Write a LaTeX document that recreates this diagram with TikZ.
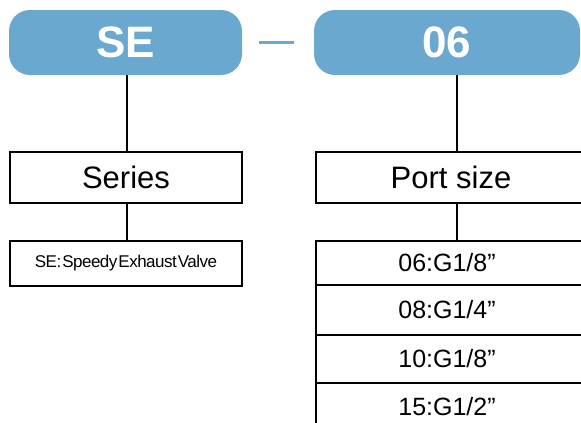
\documentclass[tikz,border=0pt]{standalone}
\usepackage{fontspec}
\setmainfont{Liberation Sans}
\newfontfamily\tightfont[WordSpace=0.25,LetterSpace=-3]{Liberation Sans}
\usetikzlibrary{positioning}
\definecolor{codeblue}{RGB}{106,168,207}

\begin{document}
\begin{tikzpicture}[x=1pt,y=-1pt]
	\tikzset{
		codebox/.style={fill=codeblue,rounded corners=21pt,minimum height=65pt,inner sep=0pt,text=white,font=\fontsize{44}{44}\selectfont\bfseries},
		namebox/.style={draw=black,line width=2pt,fill=white,minimum height=51pt,inner sep=0pt,font=\fontsize{31}{31}\selectfont},
		rowbox/.style={draw=black,line width=2pt,fill=white,minimum width=270pt,inner sep=0pt,font=\fontsize{25}{25}\selectfont},
		link/.style={line width=2pt,black}
	}
	\useasboundingbox (0,0) rectangle (581,423);
	\clip (0,0) rectangle (581,423);
	\node (se) at (125.5,42.5) [codebox,minimum width=233pt] {SE};
	\node (size) at (447,42.5) [codebox,minimum width=266pt] {06};
	\draw[codeblue,line width=2.5pt,shorten <=17pt,shorten >=20pt] (se) -- (size);

	\node (series) at (126,177.5) [namebox,minimum width=232pt] {Series};
	\node (seval) at (126,263.5) [namebox,minimum width=232pt,minimum height=45pt,font=\tightfont\fontsize{17}{17}\selectfont] {SE: Speedy Exhaust Valve};

	\node (port) at (451,177.5) [namebox,minimum width=270pt] {Port size};
	\node (r06) at (451,263) [rowbox,minimum height=44pt] {\hspace*{-8pt}06:G1/8”};
	\node (r08) at (451,310) [rowbox,minimum height=50pt] {\hspace*{-8pt}08:G1/4”};
	\node (r10) at (451,359) [rowbox,minimum height=48pt] {\hspace*{-8pt}10:G1/8”};
	\node (r15) at (451,407) [rowbox,minimum height=48pt] {\hspace*{-8pt}15:G1/2”};

	\draw[link] (127,0 |- se.south) -- (127,0 |- series.north);
	\draw[link] (127,0 |- series.south) -- (127,0 |- seval.north);
	\draw[link] (457,0 |- size.south) -- (457,0 |- port.north);
	\draw[link] (457,0 |- port.south) -- (457,0 |- r06.north);
\end{tikzpicture}
\end{document}
